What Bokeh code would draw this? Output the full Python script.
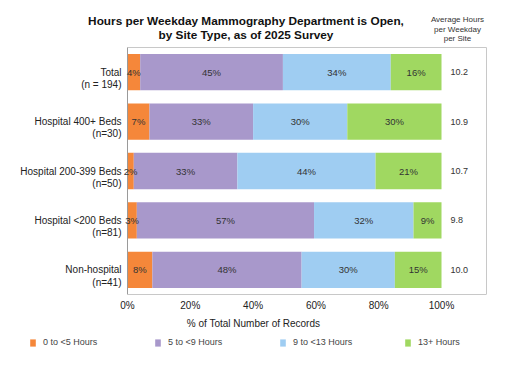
import numpy as np
from bokeh.plotting import figure
from bokeh.layouts import column
from bokeh.models import ColumnDataSource, Range1d, Legend, LegendItem, FixedTicker
from bokeh.core.properties import value
from bokeh.embed import file_html
from bokeh.resources import INLINE

categories = ["Total", "Hospital 400+ Beds", "Hospital 200-399 Beds", "Hospital <200 Beds", "Non-hospital"]
counts = ["(n = 194)", "(n=30)", "(n=50)", "(n=81)", "(n=41)"]
series = ["0 to <5 Hours", "5 to <9 Hours", "9 to <13 Hours", "13+ Hours"]
pct_0_5 = [4, 7, 2, 3, 8]
pct_5_9 = [45, 33, 33, 57, 48]
pct_9_13 = [34, 30, 44, 32, 30]
pct_13p = [16, 30, 21, 9, 15]
avg_hours = ["10.2", "10.9", "10.7", "9.8", "10.0"]
x_ticks = [0, 20, 40, 60, 80, 100]
title_lines = ["Hours per Weekday Mammography Department is Open,", "by Site Type, as of 2025 Survey"]
avg_header = ["Average Hours", "per Weekday", "per Site"]
x_title = "% of Total Number of Records"
colors = ["#F5873A", "#A898CB", "#9FCDF2", "#A0D861"]

FONT = "Liberation Sans"
W = 506
H_MAIN = 333
H_LEG = 17
PX_X = 3.14            # pixels per percent point
PX_Y = 49.4            # pixels per category band
BOX_LEFT_PX = 127
FRAME_H = 294
N = len(categories)
X_MAX = 114.33          # right edge of the plot box (percent units)

keys = ["s0", "s1", "s2", "s3"]
raw = np.array([pct_0_5, pct_5_9, pct_9_13, pct_13p], dtype=float)
norm = raw / raw.sum(axis=0) * 100.0
ypos = [N - 1 - j + 0.5 for j in range(N)]

data = {"y": ypos}
for k, row in zip(keys, norm):
    data[k] = row
source = ColumnDataSource(data)

x_range = Range1d(-BOX_LEFT_PX / PX_X, (W - BOX_LEFT_PX) / PX_X)
y_range = Range1d(0, FRAME_H / PX_Y)

p = figure(width=W, height=H_MAIN, x_range=x_range, y_range=y_range,
           output_backend="svg", toolbar_location=None, y_axis_location=None,
           min_border_left=0, min_border_right=0, min_border_top=0, min_border_bottom=H_MAIN - FRAME_H)
p.outline_line_color = None
p.xgrid.visible = False
p.ygrid.visible = False

renderers = p.hbar_stack(keys, y="y", height=0.735, color=colors, line_color=None, source=source)

# plot box border (top, right) and left axis line
p.segment(x0=[0, X_MAX], y0=[N, 0], x1=[X_MAX, X_MAX], y1=[N, N], line_color="#C8C8C8", line_width=1)
p.segment(x0=[0], y0=[-4 / PX_Y], x1=[0], y1=[N], line_color="#9A9A9A", line_width=1)

# segment labels
cum = np.cumsum(norm, axis=0)
mids = cum - norm / 2
lx, ly, lt = [], [], []
for j in range(N):
    for i in range(4):
        lx.append(mids[i, j]); ly.append(ypos[j]); lt.append(f"{int(raw[i, j])}%")
p.text(x=lx, y=ly, text=lt, text_align="center", text_baseline="middle",
       text_font=value(FONT), text_font_size="9.5px", text_color="#333333")

# average hours column
avg_x = (450 - BOX_LEFT_PX) / PX_X
p.text(x=[avg_x] * N, y=ypos, text=avg_hours, text_align="left", text_baseline="middle",
       text_font=value(FONT), text_font_size="9px", text_color="#333333")

# category labels (two lines)
p.text(x=[0] * N, y=ypos, text=categories, x_offset=-6, text_align="right", text_baseline="middle",
       text_font=value(FONT), text_font_size="10px", text_color="#222222")
p.text(x=[0] * N, y=[v - 12.3 / PX_Y for v in ypos], text=counts, x_offset=-6,
       text_align="right", text_baseline="middle",
       text_font=value(FONT), text_font_size="10px", text_color="#222222")

# title
def dy(wy):
    return (FRAME_H - wy) / PX_Y

p.text(x=[(245.5 - BOX_LEFT_PX) / PX_X] * 2, y=[dy(20), dy(34)], text=title_lines,
       text_align="center", text_baseline="middle", text_font=value(FONT),
       text_font_style="bold", text_font_size="11.8px", text_color="#111111")

# header over average column
p.text(x=[(457 - BOX_LEFT_PX) / PX_X] * 3, y=[dy(19.3), dy(28.7), dy(38)], text=avg_header,
       text_align="center", text_baseline="middle", text_font=value(FONT),
       text_font_size="8px", text_color="#333333")

# x axis
p.xaxis.ticker = FixedTicker(ticks=x_ticks)
p.xaxis.bounds = (0, X_MAX)
p.xaxis.major_label_overrides = {t: f"{t}%" for t in x_ticks}
p.xaxis.major_label_text_font = FONT
p.xaxis.major_label_text_font_size = "10px"
p.xaxis.major_label_text_color = "#222222"
p.xaxis.major_label_standoff = 5
p.xaxis.axis_line_color = "#C8C8C8"
p.xaxis.major_tick_line_color = None
p.xaxis.major_tick_out = 0
p.xaxis.major_tick_in = 0
p.xaxis.minor_tick_line_color = None
p.xaxis.minor_tick_out = 0
p.xaxis.axis_label = x_title
p.xaxis.axis_label_text_font = FONT
p.xaxis.axis_label_text_font_size = "10px"
p.xaxis.axis_label_text_font_style = "normal"
p.xaxis.axis_label_text_color = "#222222"
p.xaxis.axis_label_standoff = 4

# legend strip below the chart (legend renderers carry one off-view point each)
pl = figure(width=W, height=H_LEG, x_range=Range1d(0, W), y_range=Range1d(0, H_LEG),
            output_backend="svg", toolbar_location=None, x_axis_location=None, y_axis_location=None,
            min_border_left=0, min_border_right=0, min_border_top=0, min_border_bottom=0)
pl.outline_line_color = None
pl.xgrid.visible = False
pl.ygrid.visible = False
leg_renderers = [pl.hbar(y=[-H_LEG], left=[0], right=[1], height=1, color=c, line_color=None)
                 for c in colors]
legend = Legend(items=[LegendItem(label=s, renderers=[r]) for s, r in zip(series, leg_renderers)],
                orientation="horizontal", location=(29, 3),
                glyph_width=7, glyph_height=9, label_standoff=7, label_width=105, spacing=6,
                padding=0, margin=0, border_line_color=None, background_fill_alpha=0,
                label_text_font=FONT, label_text_font_size="9px", label_text_color="#444444",
                label_height=9)
pl.add_layout(legend, "center")

layout = column(p, pl, spacing=0)
open("out.html", "w").write(file_html(layout, INLINE))
